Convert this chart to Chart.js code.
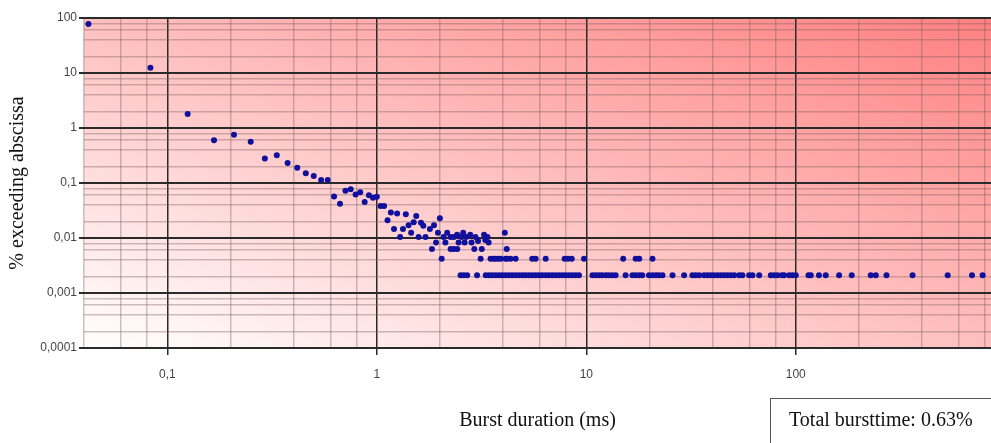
<!DOCTYPE html>
<html>
<head>
<meta charset="utf-8">
<script src="https://cdn.jsdelivr.net/npm/chart.js@4.4.0/dist/chart.umd.min.js"></script>
<style>
  html, body { margin: 0; padding: 0; background: #fff; }
  #wrap { width: 991px; height: 443px; }
</style>
</head>
<body>
<div id="wrap"><canvas id="burstChart" width="991" height="443"></canvas></div>
<script>
// === Data ===
// scattered head of the distribution (ms, %)
const headMs = [
    0.042, 0.083, 0.125, 0.167, 0.208, 0.25, 0.292, 0.333, 0.375, 0.417,
    0.458, 0.5, 0.542, 0.583, 0.625, 0.667, 0.708, 0.75, 0.792, 0.833,
    0.875, 0.917, 0.958, 1.0, 1.042, 1.083, 1.125, 1.167, 1.208, 1.25,
    1.292, 1.333, 1.375, 1.417, 1.458, 1.5, 1.542, 1.583, 1.625, 1.667,
    1.708, 1.792, 1.833, 1.875, 1.917, 1.958, 2.0, 2.083, 2.125, 2.167,
    2.25, 2.333, 2.417, 2.458, 2.542, 2.583, 2.625, 2.667, 2.792, 2.833,
    2.958, 3.042, 3.25, 3.292, 3.375, 3.417, 4.083
];
const headPct = [
    78, 12.5, 1.8, 0.6, 0.75, 0.56, 0.28, 0.32, 0.23, 0.19,
    0.15, 0.134, 0.113, 0.113, 0.057, 0.042, 0.072, 0.077, 0.062, 0.068,
    0.045, 0.06, 0.054, 0.056, 0.038, 0.038, 0.021, 0.029, 0.0146, 0.028,
    0.0104, 0.0146, 0.027, 0.017, 0.0125, 0.0193, 0.025, 0.0104, 0.019, 0.0167,
    0.0104, 0.0146, 0.0063, 0.0171, 0.0083, 0.0125, 0.0229, 0.0104, 0.0083, 0.0125,
    0.0104, 0.0104, 0.0115, 0.0083, 0.0104, 0.0125, 0.0083, 0.0104, 0.0115, 0.0083,
    0.0104, 0.0088, 0.0115, 0.0092, 0.0104, 0.0083, 0.0125
];

// tail rows: durations seen once, twice, three times
const oneBurstPct = 0.0021;
const oneBurstMs = [
    2.51, 2.6, 2.7, 3.01, 3.31, 3.43, 3.55, 3.69, 3.83, 3.97,
    4.12, 4.27, 4.43, 4.6, 4.77, 4.95, 5.13, 5.32, 5.52, 5.73,
    5.94, 6.16, 6.4, 6.63, 6.88, 7.14, 7.41, 7.68, 7.97, 8.27,
    8.57, 8.9, 9.23, 10.7, 11.1, 11.5, 11.9, 12.4, 12.8, 13.3,
    13.8, 15.4, 16.6, 17.2, 17.9, 18.5, 19.9, 20.7, 21.5, 22.2,
    23.1, 25.8, 29.3, 32.1, 33.3, 34.6, 36.5, 37.9, 39.3, 40.7,
    42.3, 43.9, 45.5, 47.2, 49.0, 50.8, 53.7, 55.6, 59.9, 62.1,
    66.9, 76.0, 78.8, 81.8, 85.8, 88.0, 93.0, 96.4, 100, 115,
    118, 129, 139, 161, 185, 228, 241, 271, 361, 531,
    694, 780
];
const twoBurstPct = 0.0042;
const twoBurstMs = [
    2.04, 3.13, 3.49, 3.6, 3.69, 3.8, 3.91, 4.12, 4.19, 4.35,
    4.6, 5.52, 5.73, 6.4, 7.88, 8.18, 8.52, 9.75, 15.0, 17.2,
    17.9, 20.7
];
const threeBurstPct = 0.0063;
const threeBurstMs = [2.25, 2.33, 2.42, 2.92, 3.17, 4.17];

// axes
const xRange = [0.04, 855];
const xMajorTicks = [0.1, 1, 10, 100];
const xTickLabels = ["0,1", "1", "10", "100"];
const yRange = [0.0001, 100];
const yMajorTicks = [0.0001, 0.001, 0.01, 0.1, 1, 10, 100];
const yTickLabels = ["0,0001", "0,001", "0,01", "0,1", "1", "10", "100"];
const minorSteps = [2, 4, 6, 8];

const xTitle = "Burst duration (ms)";
const yTitle = "% exceeding abscissa";
const totalLabel = "Total bursttime: 0.63%";

// === Build points ===
const points = [];
headMs.forEach((ms, i) => points.push({ x: ms, y: headPct[i] }));
oneBurstMs.forEach(ms => points.push({ x: ms, y: oneBurstPct }));
twoBurstMs.forEach(ms => points.push({ x: ms, y: twoBurstPct }));
threeBurstMs.forEach(ms => points.push({ x: ms, y: threeBurstPct }));

// grid ticks: each decade plus 2,4,6,8 in between
function gridTicks(range, majors) {
    const out = [];
    const first = Math.floor(Math.log10(range[0]));
    const last = Math.ceil(Math.log10(range[1]));
    for (let e = first; e <= last; e++) {
        const base = Math.pow(10, e);
        const major = majors.find(m => Math.abs(m - base) < base * 1e-6);
        [1].concat(minorSteps).forEach(k => {
            const v = k === 1 ? (major !== undefined ? major : base) : +(base * k).toPrecision(6);
            if (v >= range[0] * 0.999 && v <= range[1] * 1.001) {
                out.push({ value: v, major: k === 1 && major !== undefined });
            }
        });
    }
    return out;
}

const serif = '"Liberation Serif", "Times New Roman", serif';
const narrow = '"Liberation Sans Narrow", "Arial Narrow", "Liberation Sans", sans-serif';

const majorColor = "#2a2a2a";
const minorColor = "rgba(120, 95, 95, 0.38)";

const gradientBackground = {
    id: "gradientBackground",
    beforeDraw(chart) {
        const { ctx, chartArea: a } = chart;
        const w = a.right - a.left, h = a.bottom - a.top;
        const cx = (a.left + a.right) / 2, cy = (a.top + a.bottom) / 2;
        const len = Math.sqrt(w * w + h * h);
        const ux = h / len, uy = -w / len, d = w * h / len;
        const g = ctx.createLinearGradient(cx - ux * d, cy - uy * d, cx + ux * d, cy + uy * d);
        g.addColorStop(0, "#ffffff");
        g.addColorStop(1, "#ff8080");
        ctx.save();
        ctx.fillStyle = g;
        ctx.fillRect(a.left, a.top, w, h);
        ctx.restore();
    }
};

const totalBox = {
    id: "totalBox",
    afterDraw(chart) {
        const ctx = chart.ctx;
        ctx.save();
        ctx.strokeStyle = "#555";
        ctx.lineWidth = 1;
        ctx.strokeRect(770.5, 398.5, 240, 60);
        ctx.font = "20px " + serif;
        ctx.fillStyle = "#111";
        ctx.textBaseline = "middle";
        ctx.fillText(totalLabel, 789, 421);
        ctx.restore();
    }
};

new Chart(document.getElementById("burstChart"), {
    type: "scatter",
    data: {
        datasets: [{
            data: points,
            backgroundColor: "#10109c",
            borderWidth: 0,
            pointRadius: 3,
            pointHoverRadius: 3
        }]
    },
    options: {
        responsive: false,
        animation: false,
        layout: { autoPadding: false, padding: { top: 18, right: 0, left: 0, bottom: 0 } },
        plugins: { legend: { display: false }, tooltip: { enabled: false } },
        scales: {
            x: {
                type: "logarithmic",
                min: xRange[0],
                max: xRange[1],
                afterBuildTicks: s => { s.ticks = gridTicks(xRange, xMajorTicks); },
                afterFit: s => { s.height = 95; s.paddingLeft = 0; s.paddingRight = 0; },
                border: { display: false },
                grid: {
                    color: c => (c.tick && c.tick.major ? majorColor : minorColor),
                    lineWidth: 1.5,
                    tickLength: 7,
                    tickColor: c => (c.tick && c.tick.major ? majorColor : "rgba(0,0,0,0)")
                },
                ticks: {
                    autoSkip: false,
                    maxRotation: 0,
                    padding: 12,
                    color: "#444",
                    font: { family: narrow, size: 12 },
                    callback: v => {
                        const i = xMajorTicks.indexOf(v);
                        return i >= 0 ? xTickLabels[i] : "";
                    }
                },
                title: {
                    display: true,
                    text: xTitle,
                    color: "#111",
                    font: { family: serif, size: 20 },
                    padding: { top: 0, bottom: 10 }
                }
            },
            y: {
                type: "logarithmic",
                min: yRange[0],
                max: yRange[1],
                afterBuildTicks: s => { s.ticks = gridTicks(yRange, yMajorTicks); },
                afterFit: s => { s.width = 84; },
                border: { display: false },
                grid: {
                    color: c => (c.tick && c.tick.major ? majorColor : minorColor),
                    lineWidth: c => (c.tick && c.tick.major ? 2 : 1.5),
                    tickLength: 5,
                    tickColor: c => (c.tick && c.tick.major ? majorColor : "rgba(0,0,0,0)")
                },
                ticks: {
                    autoSkip: false,
                    padding: 2,
                    color: "#444",
                    font: { family: narrow, size: 12 },
                    callback: v => {
                        const i = yMajorTicks.indexOf(v);
                        return i >= 0 ? yTickLabels[i] : "";
                    }
                },
                title: {
                    display: true,
                    text: yTitle,
                    color: "#111",
                    font: { family: serif, size: 20 },
                    padding: { top: 6, bottom: 0 }
                }
            }
        }
    },
    plugins: [gradientBackground, totalBox]
});
</script>
</body>
</html>
